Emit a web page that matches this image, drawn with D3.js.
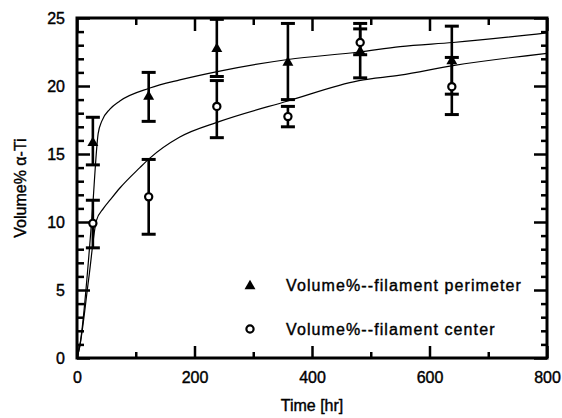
<!DOCTYPE html>
<html>
<head>
<meta charset="utf-8">
<script src="https://cdn.jsdelivr.net/npm/d3@7"></script>
<style>
  body { margin: 0; background: #fff; }
  svg { display: block; }
  text { font-family: "Liberation Sans", Arial, sans-serif; fill: #000; }
</style>
</head>
<body>
<svg id="chart"></svg>
<script>
// measured points with error bars
const times = [27, 122, 238, 359, 482, 638];
const perimeter = [15.9, 19.3, 22.8, 21.8, 22.6, 21.9];
const perimeterLow = [14.2, 17.4, 20.7, 19.0, 20.6, 19.4];
const perimeterHigh = [17.7, 21.0, 24.9, 24.6, 24.6, 24.4];
const center = [9.9, 11.85, 18.5, 17.75, 23.2, 19.95];
const centerLow = [8.1, 9.1, 16.2, 17.0, 22.3, 17.9];
const centerHigh = [11.6, 14.6, 20.4, 18.5, 24.2, 22.1];

// fitted curves
const perimeterFitTime = [0, 4, 25, 36, 42, 56, 73, 124, 175, 243, 359, 480, 550, 640, 800];
const perimeterFitValue = [0, 0.7, 10.1, 16.5, 17.4, 18.3, 18.9, 19.85, 20.45, 21.1, 21.95, 22.5, 22.9, 23.2, 23.9];
const centerFitTime = [0, 4, 20, 33, 45, 56, 73, 107, 124, 175, 243, 359, 480, 550, 640, 800];
const centerFitValue = [0, 0.7, 5.85, 10.1, 11.0, 11.6, 12.5, 14.0, 14.7, 16.25, 17.4, 18.9, 20.4, 20.8, 21.5, 22.4];

const xMajor = [0, 200, 400, 600, 800];
const xMinor = [100, 300, 500, 700];
const yMajor = [0, 5, 10, 15, 20, 25];
const yMinor = d3.range(1, 25).filter(v => v % 5 !== 0);

const legendLabels = ['Volume%--filament perimeter', 'Volume%--filament center'];

const width = 562, height = 418;
const margins = { top: 18, bottom: 60, left: 77, right: 15 };

const svg = d3.select('#chart')
  .attr('width', width)
  .attr('height', height);

const x = d3.scaleLinear()
  .domain([0, 800])
  .range([margins.left, width - margins.right]);
const y = d3.scaleLinear()
  .domain([0, 25])
  .range([height - margins.bottom, margins.top]);

const fontSize = 16;

// axes: ticks point inward on all four sides
function addAxis(axis, transform) {
  const g = svg.append('g')
    .attr('transform', transform)
    .call(axis);
  g.select('.domain').remove();
  g.selectAll('line').attr('stroke', '#000').attr('stroke-width', 2.5);
  g.selectAll('text')
    .attr('font-size', fontSize)
    .attr('font-family', '"Liberation Sans", Arial, sans-serif')
    .attr('stroke', '#000').attr('stroke-width', 0.4);
  return g;
}

addAxis(d3.axisBottom(x).tickValues(xMajor).tickSize(-12).tickPadding(14).tickFormat(d3.format('d')),
  `translate(0,${y(0)})`);
addAxis(d3.axisBottom(x).tickValues(xMinor).tickSize(-6).tickFormat(''),
  `translate(0,${y(0)})`);
addAxis(d3.axisTop(x).tickValues(xMajor).tickSize(-13).tickFormat(''),
  `translate(0,${y(25)})`);
addAxis(d3.axisTop(x).tickValues(xMinor).tickSize(-7).tickFormat(''),
  `translate(0,${y(25)})`);
addAxis(d3.axisLeft(y).tickValues(yMajor).tickSize(-13).tickPadding(12).tickFormat(d3.format('d')),
  `translate(${x(0)},0)`);
addAxis(d3.axisLeft(y).tickValues(yMinor).tickSize(-7).tickFormat(''),
  `translate(${x(0)},0)`);
addAxis(d3.axisRight(y).tickValues(yMajor).tickSize(-13).tickFormat(''),
  `translate(${x(800)},0)`);
addAxis(d3.axisRight(y).tickValues(yMinor).tickSize(-6).tickFormat(''),
  `translate(${x(800)},0)`);

// frame
svg.append('rect')
  .attr('x', x(0))
  .attr('y', y(25))
  .attr('width', x(800) - x(0))
  .attr('height', y(0) - y(25))
  .attr('fill', 'none')
  .attr('stroke', '#000')
  .attr('stroke-width', 3);

// axis titles
svg.append('text')
  .attr('x', (x(0) + x(800)) / 2)
  .attr('y', 411)
  .attr('text-anchor', 'middle')
  .attr('font-size', fontSize)
  .attr('stroke', '#000').attr('stroke-width', 0.4)
  .text('Time [hr]');

svg.append('text')
  .attr('transform', `translate(26,${(y(0) + y(25)) / 2}) rotate(-90)`)
  .attr('text-anchor', 'middle')
  .attr('font-size', fontSize)
  .attr('stroke', '#000').attr('stroke-width', 0.4)
  .text('Volume% α-Ti');

// fit curves
const fitLine = d3.line()
  .curve(d3.curveMonotoneX)
  .x(d => x(d[0]))
  .y(d => y(d[1]));

svg.append('path')
  .datum(perimeterFitTime.map((t, i) => [t, perimeterFitValue[i]]))
  .attr('fill', 'none')
  .attr('stroke', '#000')
  .attr('stroke-width', 1.2)
  .attr('d', fitLine);

svg.append('path')
  .datum(centerFitTime.map((t, i) => [t, centerFitValue[i]]))
  .attr('fill', 'none')
  .attr('stroke', '#000')
  .attr('stroke-width', 1.2)
  .attr('d', fitLine);

// error bars
const capHalf = 7;
function errorBars(low, high) {
  const g = svg.append('g');
  times.forEach((t, i) => {
    g.append('line')
      .attr('x1', x(t)).attr('x2', x(t))
      .attr('y1', y(low[i])).attr('y2', y(high[i]))
      .attr('stroke', '#000').attr('stroke-width', 2.6);
    [low[i], high[i]].forEach(v => {
      g.append('line')
        .attr('x1', x(t) - capHalf).attr('x2', x(t) + capHalf)
        .attr('y1', y(v)).attr('y2', y(v))
        .attr('stroke', '#000').attr('stroke-width', 3);
    });
  });
}
errorBars(perimeterLow, perimeterHigh);
errorBars(centerLow, centerHigh);

// markers
const tri = d3.symbol().type(d3.symbolTriangle).size(52);

svg.append('g')
  .selectAll('path')
  .data(times.map((t, i) => [t, perimeter[i]]))
  .enter()
  .append('path')
  .attr('transform', d => `translate(${x(d[0])},${y(d[1]) + 1})`)
  .attr('d', tri)
  .attr('fill', '#000');

svg.append('g')
  .selectAll('circle')
  .data(times.map((t, i) => [t, center[i]]))
  .enter()
  .append('circle')
  .attr('cx', d => x(d[0]))
  .attr('cy', d => y(d[1]))
  .attr('r', 3.6)
  .attr('fill', '#fff')
  .attr('stroke', '#000')
  .attr('stroke-width', 2.2);

// legend
const legend = svg.selectAll('.legend')
  .data(legendLabels)
  .enter()
  .append('g')
  .attr('class', 'legend')
  .attr('transform', (d, i) => `translate(250,${285 + i * 44})`);

legend.each(function(d, i) {
  const g = d3.select(this);
  if (i === 0) {
    g.append('path').attr('d', tri).attr('transform', 'translate(0,1)').attr('fill', '#000');
  } else {
    g.append('circle').attr('r', 3.6).attr('fill', '#fff')
      .attr('stroke', '#000').attr('stroke-width', 2.2);
  }
});

legend.append('text')
  .attr('x', 36)
  .attr('dy', '0.35em')
  .attr('font-size', fontSize)
  .attr('letter-spacing', 1.1)
  .attr('stroke', '#000').attr('stroke-width', 0.4)
  .text(d => d);
</script>
</body>
</html>
